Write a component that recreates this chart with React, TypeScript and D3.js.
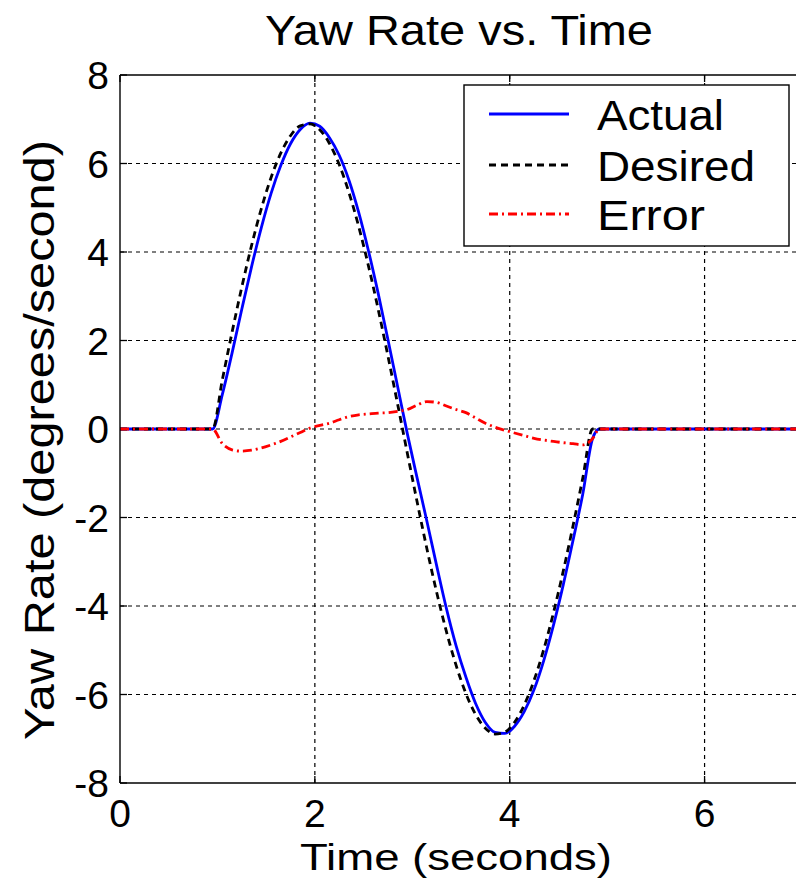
import React from "react";
import * as d3 from "d3";

const timeSec = [0, 0.95, 1.05, 1.15, 1.25, 1.35, 1.45, 1.55, 1.65, 1.75, 1.85, 1.95, 2.05, 2.15, 2.25, 2.35, 2.45, 2.55, 2.65, 2.75, 2.85, 2.95, 3.05, 3.15, 3.25, 3.35, 3.45, 3.55, 3.65, 3.75, 3.85, 3.95, 4.05, 4.15, 4.25, 4.35, 4.45, 4.55, 4.65, 4.75, 4.85, 4.92, 7];

const desired = [0, 0, 1.107, 2.185, 3.206, 4.145, 4.977, 5.679, 6.233, 6.627, 6.85, 6.894, 6.761, 6.452, 5.976, 5.343, 4.575, 3.688, 2.705, 1.651, 0.556, -0.556, -1.651, -2.705, -3.688, -4.575, -5.343, -5.976, -6.452, -6.761, -6.894, -6.85, -6.627, -6.233, -5.679, -4.977, -4.145, -3.206, -2.185, -1.107, 0, 0, 0];

const actual = [0, 0, 0.777, 1.715, 2.706, 3.665, 4.547, 5.319, 5.953, 6.447, 6.77, 6.914, 6.841, 6.582, 6.186, 5.623, 4.895, 4.028, 3.065, 2.021, 0.956, -0.116, -1.111, -2.085, -3.088, -4.055, -4.903, -5.606, -6.202, -6.631, -6.854, -6.88, -6.717, -6.383, -5.889, -5.227, -4.425, -3.516, -2.515, -1.467, -0.22, 0, 0];

const errorVals = [0, 0, -0.33, -0.47, -0.5, -0.48, -0.43, -0.36, -0.28, -0.18, -0.08, 0.02, 0.08, 0.13, 0.21, 0.28, 0.32, 0.34, 0.36, 0.37, 0.4, 0.44, 0.54, 0.62, 0.6, 0.52, 0.44, 0.37, 0.25, 0.13, 0.04, -0.03, -0.09, -0.15, -0.21, -0.25, -0.28, -0.31, -0.33, -0.36, -0.22, 0, 0];

const xTicks = [0, 2, 4, 6];
const yTicks = [-8, -6, -4, -2, 0, 2, 4, 6, 8];
const seriesNames = ["Actual", "Desired", "Error"];

const W = 796;
const H = 879;
const FONT = "'Liberation Sans', Arial, Helvetica, sans-serif";

export default function App() {
  const left = 120, right = 802, top = 75, bottom = 783;
  const x = d3.scaleLinear().domain([0, 7]).range([left, right]);
  const y = d3.scaleLinear().domain([-8, 8]).range([bottom, top]);

  const mk = (vals: number[]) =>
    d3.line<number>()
      .x((_, i) => x(timeSec[i]))
      .y((v) => y(v))
      .curve(d3.curveMonotoneX)(vals) || "";

  const styles = [
    { color: "#0000ff", dash: "none" },
    { color: "#000000", dash: "7,5" },
    { color: "#ff0000", dash: "9,4,2,4" },
  ];
  const series = [actual, desired, errorVals];

  const legX = 464, legY = 85, legW = 325, legH = 161;
  const rowY = [114, 165, 214];
  const legLen = [127, 158, 108];

  return (
    <svg width={W} height={H} style={{ position: "fixed", left: 0, top: 0, background: "#fff" }} fontFamily={FONT}>
      <rect x={0} y={0} width={W} height={H} fill="#fff" />
      <defs>
        <clipPath id="plotclip">
          <rect x={left} y={top} width={right - left} height={bottom - top} />
        </clipPath>
      </defs>
      {/* grid */}
      <g stroke="#000" strokeWidth={1.2} strokeDasharray="4,4">
        {xTicks.filter((t) => t > 0).map((t) => (
          <line key={"gx" + t} x1={x(t)} x2={x(t)} y1={top} y2={bottom} />
        ))}
        {yTicks.filter((t) => t > -8 && t < 8).map((t) => (
          <line key={"gy" + t} x1={left} x2={right} y1={y(t)} y2={y(t)} />
        ))}
      </g>
      {/* ticks */}
      <g stroke="#000" strokeWidth={1.3}>
        {xTicks.map((t) => (
          <g key={"tx" + t}>
            <line x1={x(t)} x2={x(t)} y1={bottom} y2={bottom - 7} />
            <line x1={x(t)} x2={x(t)} y1={top} y2={top + 7} />
          </g>
        ))}
        {yTicks.map((t) => (
          <line key={"ty" + t} x1={left} x2={left + 7} y1={y(t)} y2={y(t)} />
        ))}
      </g>
      {/* data */}
      <g clipPath="url(#plotclip)" fill="none">
        {series.map((s, i) => (
          <path key={i} d={mk(s)} stroke={styles[i].color} strokeWidth={2.8}
            strokeDasharray={styles[i].dash} strokeLinejoin="round" />
        ))}
      </g>
      {/* axes box */}
      <g stroke="#000" strokeWidth={1.4} fill="none">
        <line x1={left} x2={left} y1={top} y2={bottom} />
        <line x1={left} x2={right} y1={bottom} y2={bottom} />
        <line x1={left} x2={right} y1={top} y2={top} />
      </g>
      {/* tick labels */}
      <g fontSize={39} fill="#000">
        {xTicks.map((t) => (
          <text key={"lx" + t} x={x(t)} y={827} textAnchor="middle">{t}</text>
        ))}
        {yTicks.map((t) => (
          <text key={"ly" + t} x={109} y={y(t) + 14} textAnchor="end">{t}</text>
        ))}
      </g>
      {/* titles */}
      <text x={459} y={45} textAnchor="middle" fontSize={42} textLength={388} lengthAdjust="spacingAndGlyphs">Yaw Rate vs. Time</text>
      <text x={456} y={870} textAnchor="middle" fontSize={36} textLength={312} lengthAdjust="spacingAndGlyphs">Time (seconds)</text>
      <text transform={`translate(54, 440) rotate(-90)`} textAnchor="middle" fontSize={42} textLength={600} lengthAdjust="spacingAndGlyphs">Yaw Rate (degrees/second)</text>
      {/* legend */}
      <rect x={legX} y={legY} width={legW} height={legH} fill="#fff" stroke="#000" strokeWidth={1.4} />
      {seriesNames.map((n, i) => (
        <g key={n}>
          <line x1={489} x2={569} y1={rowY[i]} y2={rowY[i]} stroke={styles[i].color}
            strokeWidth={2.8} strokeDasharray={styles[i].dash} />
          <text x={597} y={rowY[i] + 16} fontSize={42} textLength={legLen[i]} lengthAdjust="spacingAndGlyphs">{n}</text>
        </g>
      ))}
    </svg>
  );
}
